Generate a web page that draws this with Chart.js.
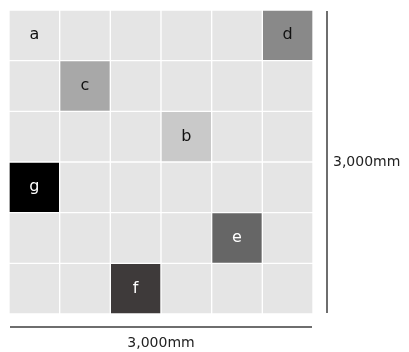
<!DOCTYPE html>
<html>
<head>
<meta charset="utf-8">
<script src="https://cdn.jsdelivr.net/npm/chart.js@4/dist/chart.umd.min.js"></script>
<style>
html,body{margin:0;padding:0;background:#fff;}
#wrap{width:409px;height:352px;}
</style>
</head>
<body>
<div id="wrap"><canvas id="c" width="409" height="352"></canvas></div>
<script>
// Grid definition
const gridCols = ['1','2','3','4','5','6'];
const gridRowCount = 6;
// Highlighted cells
const cellLabels = ['a','b','c','d','e','f','g'];
const cellCols   = [0, 3, 1, 5, 4, 2, 0];
const cellRows   = [0, 2, 1, 0, 4, 5, 3];
// Dimension labels
const widthLabel = '3,000mm';
const heightLabel = '3,000mm';

// styles
const baseColor = '#e5e5e5';
const cellFill = {a: '#e5e5e5', b: '#c9c9c9', c: '#a8a8a8', d: '#898989', e: '#666666', f: '#3e3a3a', g: '#000000'};
const cellText = {a: '#111', b: '#111', c: '#111', d: '#111', e: '#fff', f: '#fff', g: '#fff'};

const datasets = [];
for (let r = 0; r < gridRowCount; r++) {
  const data = [], colors = [];
  for (let c = 0; c < gridCols.length; c++) {
    data.push([r, r + 1]);
    let col = baseColor;
    cellLabels.forEach((l, i) => { if (cellRows[i] === r && cellCols[i] === c) col = cellFill[l]; });
    colors.push(col);
  }
  datasets.push({data, backgroundColor: colors, borderColor: '#ffffff', borderWidth: 1, borderSkipped: false});
}

const overlay = {
  id: 'overlay',
  afterDatasetsDraw(chart) {
    const {ctx, scales: {x, y}, chartArea: a} = chart;
    ctx.save();
    ctx.textAlign = 'center';
    ctx.textBaseline = 'middle';
    ctx.font = '16px "DejaVu Sans", sans-serif';
    cellLabels.forEach((l, i) => {
      const px = x.getPixelForValue(cellCols[i]);
      const py = y.getPixelForValue(cellRows[i] + 0.5);
      ctx.fillStyle = cellText[l];
      ctx.fillText(l, px, py);
    });
    // dimension lines
    const gx0 = x.getPixelForValue(0) - (x.getPixelForValue(1) - x.getPixelForValue(0)) / 2 + 1;
    const gx1 = x.getPixelForValue(gridCols.length - 1) + (x.getPixelForValue(1) - x.getPixelForValue(0)) / 2 - 1;
    const gy0 = y.getPixelForValue(0) + 1;
    const gy1 = y.getPixelForValue(gridRowCount) - 1;
    ctx.strokeStyle = '#6e6e6e';
    ctx.lineWidth = 2;
    ctx.beginPath();
    ctx.moveTo(gx0, gy1 + 14); ctx.lineTo(gx1, gy1 + 14);
    ctx.moveTo(gx1 + 15, gy0); ctx.lineTo(gx1 + 15, gy1);
    ctx.stroke();
    ctx.fillStyle = '#222';
    ctx.font = '14px "DejaVu Sans", sans-serif';
    ctx.textAlign = 'center';
    ctx.fillText(widthLabel, (gx0 + gx1) / 2, gy1 + 30);
    ctx.textAlign = 'left';
    ctx.fillText(heightLabel, gx1 + 21, (gy0 + gy1) / 2);
    ctx.restore();
  }
};

new Chart(document.getElementById('c'), {
  type: 'bar',
  data: {labels: gridCols, datasets},
  options: {
    responsive: false,
    animation: false,
    layout: {padding: {left: 9, top: 10, right: 96, bottom: 38}},
    datasets: {bar: {grouped: false, barPercentage: 1, categoryPercentage: 1}},
    plugins: {legend: {display: false}, tooltip: {enabled: false}},
    scales: {
      x: {display: false, offset: true},
      y: {display: false, min: 0, max: gridRowCount, reverse: true}
    }
  },
  plugins: [overlay]
});
</script>
</body>
</html>
